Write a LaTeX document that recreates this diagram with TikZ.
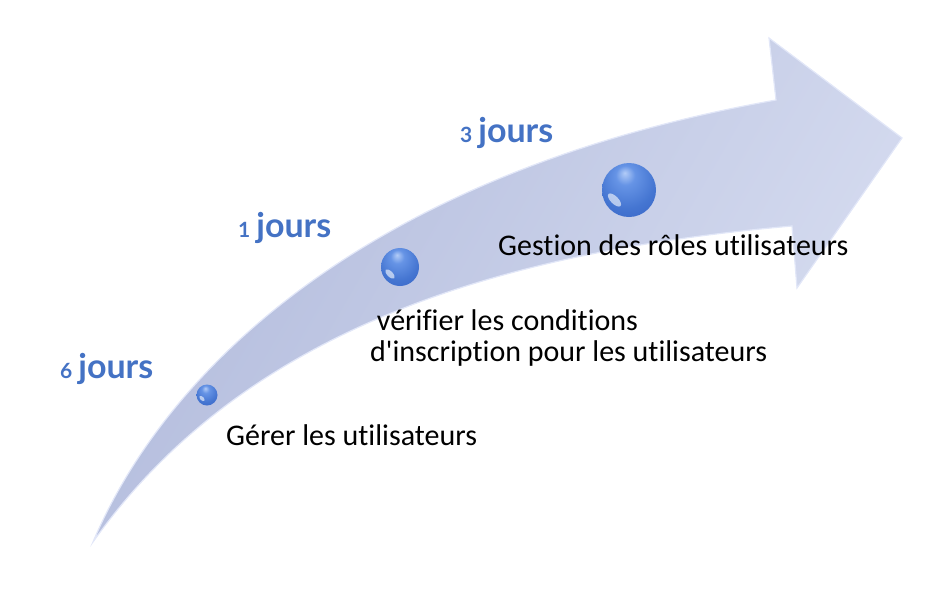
\documentclass[tikz,border=0pt]{standalone}
\usepackage{fontspec}
\setmainfont{Carlito}[Ligatures=NoCommon]
\newfontfamily\lblfont{Lato}
\usetikzlibrary{calc}
\definecolor{arrowA}{RGB}{178,187,220}
\definecolor{arrowB}{RGB}{214,220,240}
\definecolor{arrowEdge}{RGB}{226,231,248}
\definecolor{jblue}{RGB}{68,114,196}
\pgfdeclareradialshading{glossball}{\pgfpoint{-4bp}{16bp}}{%
  rgb(0bp)=(0.70,0.80,0.97);
  rgb(9bp)=(0.40,0.58,0.90);
  rgb(26bp)=(0.27,0.46,0.82);
  rgb(40bp)=(0.22,0.40,0.78);
  rgb(52bp)=(0.30,0.52,0.88);
  rgb(60bp)=(0.45,0.65,0.95)}
\tikzset{
  ballnode/.style={circle, inner sep=0pt, shading=glossball},
  hilite/.style={white, opacity=0.6},
  steptext/.style={font=\fontsize{30}{31}\selectfont, text=black, inner sep=0pt, anchor=west, align=left},
  jourslbl/.style={font=\lblfont\bfseries, text=jblue, inner sep=0pt, anchor=west}
}
\newcommand{\joursnum}[1]{{\fontsize{21}{24}\selectfont #1}\hspace{6pt}{\fontsize{34}{36}\selectfont jours}}
\begin{document}
\begin{tikzpicture}[x=1pt,y=-1pt]
\useasboundingbox (0,0) rectangle (927,598);
% curved arrow
\path[draw=arrowEdge, line width=1.2pt, left color=arrowA, right color=arrowB, shading angle=60]
  (93,542) .. controls (170,360) and (380,170) .. (776,100)
  -- (769,38) -- (902,138) -- (797,288) -- (792,226)
  .. controls (520,250) and (250,320) .. (93,542) -- cycle;
% balls
\node[ballnode, minimum size=21pt] (b1) at (207,395) {};
\node[ballnode, minimum size=38pt] (b2) at (400,267) {};
\node[ballnode, minimum size=54pt] (b3) at (629,190) {};
\fill[hilite] ($(b1.center)+(-5pt,-3.5pt)$) ellipse[x radius=1.8pt, y radius=3.2pt, rotate=45];
\fill[hilite] ($(b2.center)+(-10pt,-7pt)$) ellipse[x radius=2.8pt, y radius=6pt, rotate=45];
\fill[hilite] ($(b3.center)+(-14.5pt,-10pt)$) ellipse[x radius=3.8pt, y radius=8.5pt, rotate=45];
% step texts
\node[steptext] (t1) at (226,435) {Gérer les utilisateurs};
\node[steptext] (t2) at (370,338) {\ vérifier les conditions\\d\textquotesingle inscription pour les utilisateurs};
\node[steptext] (t3) at (498,245) {Gestion des rôles utilisateurs};
% durations
\node[jourslbl] (j1) at (60,369) {\joursnum{6}};
\node[jourslbl] (j2) at (238,228) {\joursnum{1}};
\node[jourslbl] (j3) at (460,133) {\joursnum{3}};
\end{tikzpicture}
\end{document}
